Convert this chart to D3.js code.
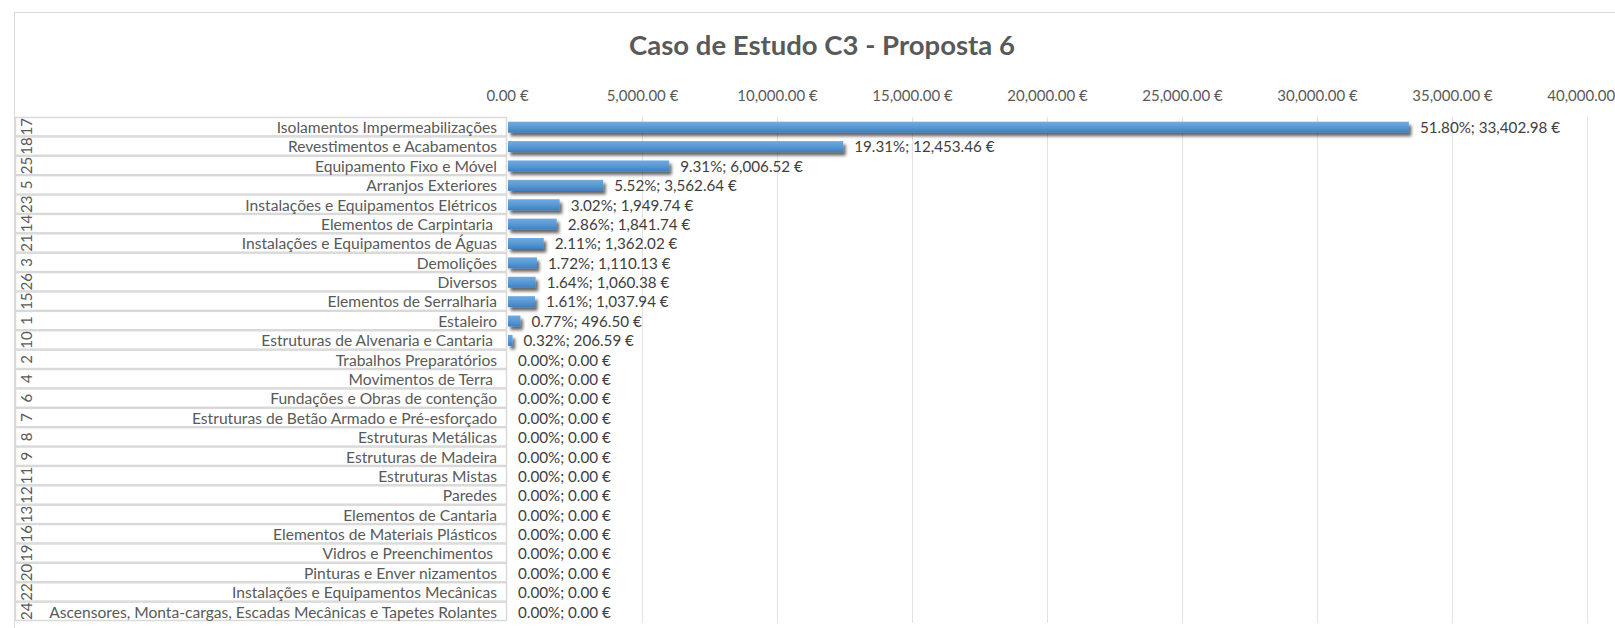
<!DOCTYPE html>
<html>
<head>
<meta charset="utf-8">
<script src="https://cdn.jsdelivr.net/npm/d3@7"></script>
<style>
  html, body { margin: 0; padding: 0; background: #fff; }
  svg { display: block; }
  text { font-family: Lato, "Open Sans", sans-serif; }
</style>
</head>
<body>
<svg id="chart" width="1615" height="628"></svg>
<script>
// Cost per work chapter, sorted by value
const codes = ["17","18","25","5","23","14","21","3","26","15","1","10","2","4","6","7","8","9","11","12","13","16","19","20","22","24"];
const categories = [
  "Isolamentos Impermeabilizações",
  "Revestimentos e Acabamentos",
  "Equipamento Fixo e Móvel",
  "Arranjos Exteriores",
  "Instalações e Equipamentos Elétricos",
  "Elementos de Carpintaria ",
  "Instalações e Equipamentos de Águas",
  "Demolições",
  "Diversos",
  "Elementos de Serralharia",
  "Estaleiro",
  "Estruturas de Alvenaria e Cantaria ",
  "Trabalhos Preparatórios",
  "Movimentos de Terra ",
  "Fundações e Obras de contenção",
  "Estruturas de Betão Armado e Pré-esforçado",
  "Estruturas Metálicas",
  "Estruturas de Madeira",
  "Estruturas Mistas",
  "Paredes",
  "Elementos de Cantaria",
  "Elementos de Materiais Plásticos",
  "Vidros e Preenchimentos ",
  "Pinturas e Enver nizamentos",
  "Instalações e Equipamentos Mecânicas",
  "Ascensores, Monta-cargas, Escadas Mecânicas e Tapetes Rolantes"
];
const costs = [33402.98, 12453.46, 6006.52, 3562.64, 1949.74, 1841.74, 1362.02, 1110.13, 1060.38, 1037.94, 496.50, 206.59,
  0, 0, 0, 0, 0, 0, 0, 0, 0, 0, 0, 0, 0, 0];
const shares = ["51.80%", "19.31%", "9.31%", "5.52%", "3.02%", "2.86%", "2.11%", "1.72%", "1.64%", "1.61%", "0.77%", "0.32%",
  "0.00%", "0.00%", "0.00%", "0.00%", "0.00%", "0.00%", "0.00%", "0.00%", "0.00%", "0.00%", "0.00%", "0.00%", "0.00%", "0.00%"];
const tickValues = [0, 5000, 10000, 15000, 20000, 25000, 30000, 35000, 40000];
const tickLabels = ["0.00 €", "5,000.00 €", "10,000.00 €", "15,000.00 €", "20,000.00 €", "25,000.00 €", "30,000.00 €", "35,000.00 €", "40,000.00 €"];
const title = "Caso de Estudo C3 - Proposta 6";

const rows = categories.map((c, i) => ({ code: codes[i], name: c, value: costs[i], share: shares[i] }));

const svg = d3.select("#chart");
const textGrey = "#595959";
const lineGrey = "#d9d9d9";

const plot = { left: 507, right: 1587, top: 117, bottom: 621 };
const axisLeft = 15;

const x = d3.scaleLinear().domain([0, 40000]).range([plot.left, plot.right]);
const y = d3.scaleBand().domain(d3.range(rows.length)).range([plot.top, plot.bottom]).paddingInner(0).paddingOuter(0);

// defs: bar gradient and soft shadow
const defs = svg.append("defs");
const grad = defs.append("linearGradient").attr("id", "barFill").attr("x1", 0).attr("y1", 0).attr("x2", 0).attr("y2", 1);
grad.append("stop").attr("offset", "0%").attr("stop-color", "#71aadf");
grad.append("stop").attr("offset", "45%").attr("stop-color", "#5b9bd5");
grad.append("stop").attr("offset", "100%").attr("stop-color", "#3f7fc2");

const shadow = defs.append("filter").attr("id", "barShadow")
  .attr("x", "-10%").attr("y", "-100%").attr("width", "130%").attr("height", "300%");
shadow.append("feDropShadow").attr("dx", 2.5).attr("dy", 3.5).attr("stdDeviation", 1.8)
  .attr("flood-color", "#000").attr("flood-opacity", 0.6);

// chart frame
svg.append("rect").attr("x", 14.5).attr("y", 12.5).attr("width", 1640).attr("height", 640)
  .attr("fill", "#fff").attr("stroke", lineGrey).attr("stroke-width", 1);

// title
svg.append("text").attr("x", 822).attr("y", 55)
  .attr("text-anchor", "middle").attr("font-size", 27.5).attr("font-weight", 700)
  .attr("fill", textGrey).text(title);

// vertical gridlines
svg.append("g").selectAll("line").data(tickValues.slice(1)).join("line")
  .attr("x1", d => Math.round(x(d)) + 0.5).attr("x2", d => Math.round(x(d)) + 0.5)
  .attr("y1", plot.top).attr("y2", plot.bottom + 2)
  .attr("stroke", "#e2e2e2").attr("stroke-width", 1);

// top value axis
const xAxis = d3.axisTop(x).tickValues(tickValues).tickFormat((d, i) => tickLabels[i]).tickSize(0).tickPadding(0);
const gx = svg.append("g").attr("transform", "translate(0,101)").call(xAxis);
gx.select(".domain").remove();
gx.selectAll("text").attr("font-size", 15).attr("fill", textGrey).attr("font-family", "Lato, sans-serif");

// category axis boxes
const cat = svg.append("g");
cat.selectAll("rect").data(rows).join("rect")
  .attr("x", axisLeft + 0.5).attr("y", (d, i) => y(i) + 0.5)
  .attr("width", plot.left - axisLeft - 1).attr("height", y.bandwidth() - 1)
  .attr("fill", "#fff").attr("stroke", lineGrey).attr("stroke-width", 1.5);

cat.selectAll("text.code").data(rows).join("text").attr("class", "code")
  .attr("transform", (d, i) => `translate(${axisLeft + 11.5},${y(i) + y.bandwidth() / 2}) rotate(-90)`)
  .attr("text-anchor", "middle").attr("dy", "0.36em")
  .attr("font-size", 15).attr("fill", textGrey).text(d => d.code);

cat.selectAll("text.name").data(rows).join("text").attr("class", "name")
  .attr("xml:space", "preserve")
  .attr("x", plot.left - 10).attr("y", (d, i) => y(i) + y.bandwidth() / 2 + 6.3)
  .attr("text-anchor", "end").attr("font-size", 15.6).attr("fill", textGrey).text(d => d.name);

// bars
const barH = 11;
svg.append("g").attr("filter", "url(#barShadow)")
  .selectAll("rect").data(rows.filter(d => d.value > 0)).join("rect")
  .attr("x", x(0) + 1)
  .attr("y", d => y(rows.indexOf(d)) + y.bandwidth() / 2 - barH / 2 + 0.5)
  .attr("width", d => x(d.value) - x(0) - 1)
  .attr("height", barH)
  .attr("fill", "url(#barFill)");

// data labels
svg.append("g").selectAll("text").data(rows).join("text")
  .attr("x", d => x(d.value) + 11)
  .attr("y", (d, i) => y(i) + y.bandwidth() / 2 + 6.3)
  .attr("font-size", 15.2).attr("fill", "#404040")
  .text(d => `${d.share}; ${d3.format(",.2f")(d.value)} €`);
</script>
</body>
</html>
